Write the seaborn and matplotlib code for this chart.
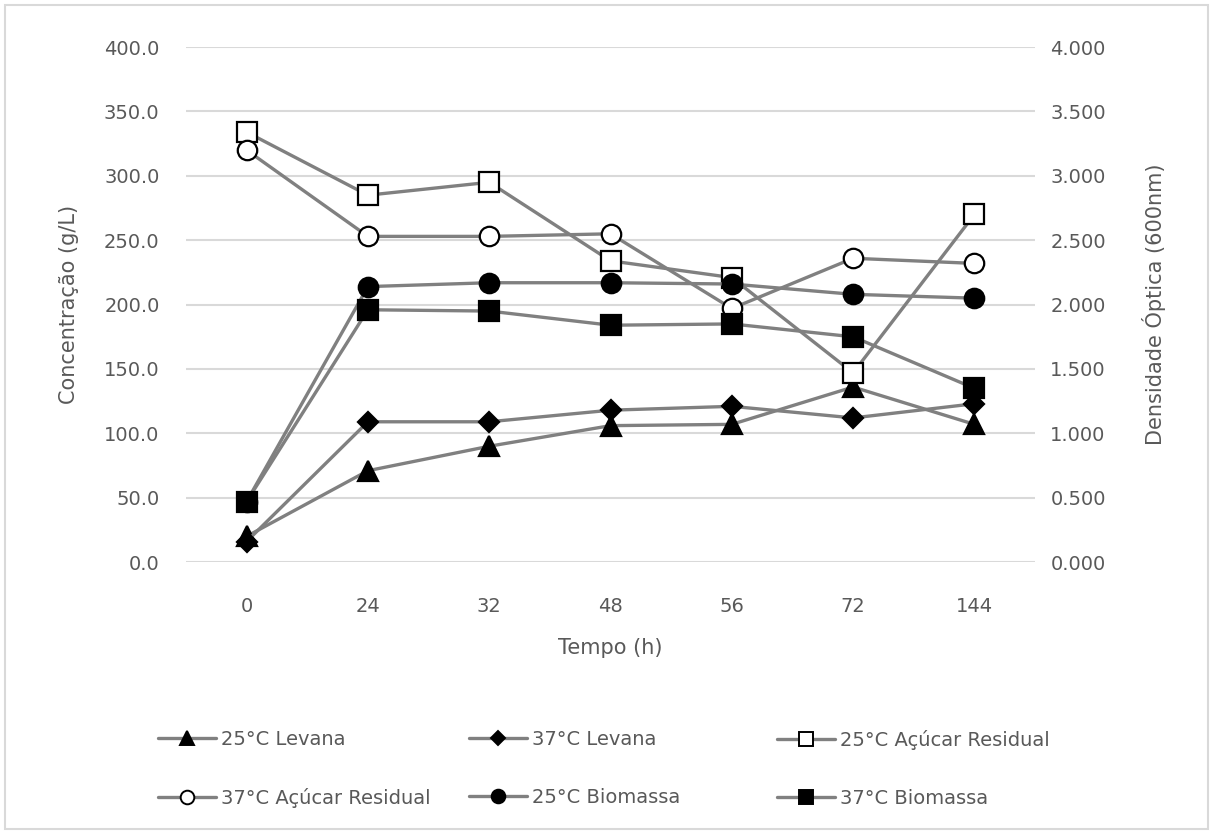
import matplotlib
matplotlib.use("Agg")
import matplotlib.pyplot as plt
import seaborn as sns
import numpy as np
import pandas as pd
from matplotlib.lines import Line2D
from matplotlib.patches import Rectangle

# ---------------- data ----------------
tempo = ["0", "24", "32", "48", "56", "72", "144"]
levana_25 = [20, 71, 90, 106, 107, 136, 107]
levana_37 = [16, 109, 109, 118, 121, 112, 123]
acucar_25 = [334, 285, 295, 234, 221, 147, 270]
acucar_37 = [320, 253, 253, 255, 197, 236, 232]
biomassa_25 = [0.47, 2.14, 2.17, 2.17, 2.16, 2.08, 2.05]
biomassa_37 = [0.47, 1.96, 1.95, 1.84, 1.85, 1.75, 1.35]

left_ticks = [0, 50, 100, 150, 200, 250, 300, 350, 400]
right_ticks = [0, 0.5, 1.0, 1.5, 2.0, 2.5, 3.0, 3.5, 4.0]

sns.set_theme(style="white")
plt.rcParams['font.family'] = ['DejaVu Sans']

TXT = "#595959"
LINE = "#808080"

fig = plt.figure(figsize=(12.13, 8.34), dpi=100)
ax = fig.add_axes([0.1533, 0.326, 0.700, 0.6175])
ax2 = ax.twinx()

pos = np.arange(len(tempo))

series = [
    ("25°C Levana", levana_25, ax, "^", "black", 15),
    ("37°C Levana", levana_37, ax, "D", "black", 10),
    ("25°C Açúcar Residual", acucar_25, ax, "s", "white", 14),
    ("37°C Açúcar Residual", acucar_37, ax, "o", "white", 14),
    ("25°C Biomassa", biomassa_25, ax2, "o", "black", 14),
    ("37°C Biomassa", biomassa_37, ax2, "s", "black", 14),
]

handles = {}
for label, vals, a, mk, fc, ms in series:
    df = pd.DataFrame({"pos": pos, "val": vals})
    sns.lineplot(data=df, x="pos", y="val", ax=a, color=LINE, linewidth=2.4,
                 marker=mk, markersize=ms, markerfacecolor=fc,
                 markeredgecolor="black", markeredgewidth=1.6, legend=False)
    handles[label] = Line2D([0], [0], color=LINE, linewidth=2.4, marker=mk,
                            markersize=ms * 0.7, markerfacecolor=fc,
                            markeredgecolor="black", markeredgewidth=1.4)

ax.set_xlim(-0.5, len(tempo) - 0.5)
ax.set_xticks(pos)
ax.set_xticklabels(tempo)
ax.set_ylim(0, 400)
ax.set_yticks(left_ticks)
ax.set_yticklabels([f"{v:.1f}" for v in left_ticks])
ax2.set_ylim(0, 4)
ax2.set_yticks(right_ticks)
ax2.set_yticklabels([f"{v:.3f}" for v in right_ticks])

ax.yaxis.grid(True, color="#d9d9d9", linewidth=1.5)
ax.xaxis.grid(False)
ax2.grid(False)
for a in (ax, ax2):
    for s in a.spines.values():
        s.set_visible(False)
    a.tick_params(axis="both", length=0, labelsize=14, colors=TXT)
ax.tick_params(axis="y", pad=19)
ax2.tick_params(axis="y", pad=11)
ax.tick_params(axis="x", pad=25)

ax.set_xlabel("Tempo (h)", fontsize=15, color=TXT, labelpad=16)
ax.set_ylabel("Concentração (g/L)", fontsize=15, color=TXT, labelpad=18)
ax2.set_ylabel("Densidade Óptica (600nm)", fontsize=15, color=TXT, labelpad=26)

# legends: three columns, two rows (row-major order as in the reference)
cols = [
    (["25°C Levana", "37°C Açúcar Residual"], 158),
    (["37°C Levana", "25°C Biomassa"], 469),
    (["25°C Açúcar Residual", "37°C Biomassa"], 777),
]
for labels, xpx in cols:
    fig.legend([handles[l] for l in labels], labels, loc="upper left",
               bbox_to_anchor=(xpx / 1213, 1 - 730 / 834),
               bbox_transform=fig.transFigure,
               frameon=False, fontsize=14, labelcolor=TXT, handlelength=3.0,
               handletextpad=0.25, labelspacing=2.0, borderaxespad=0,
               borderpad=0)

fig.patches.append(Rectangle((0.004, 0.006), 0.992, 0.988, transform=fig.transFigure,
                             fill=False, edgecolor="#d9d9d9", linewidth=1.5))

fig.savefig("out.png", dpi=100, facecolor="white")
